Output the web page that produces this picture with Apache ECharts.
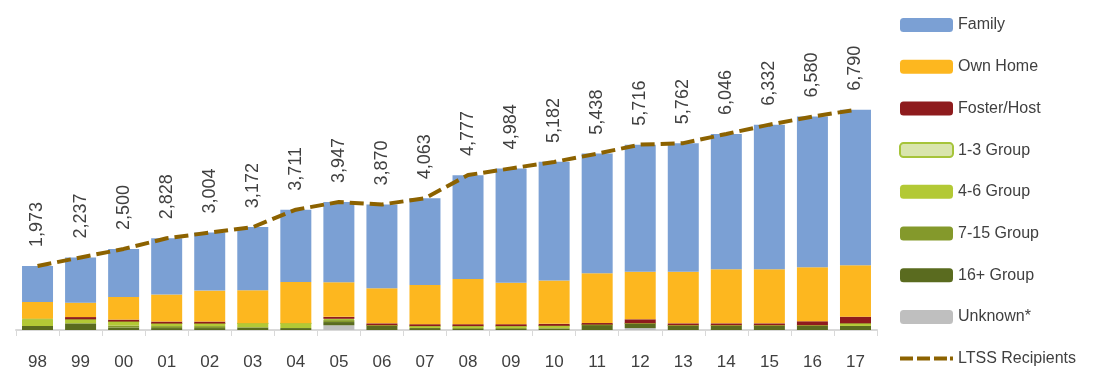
<!DOCTYPE html>
<html>
<head>
<meta charset="utf-8">
<script src="https://cdn.jsdelivr.net/npm/echarts@6/dist/echarts.min.js"></script>
<style>html,body{margin:0;padding:0;background:#fff}#c{width:1112px;height:382px}</style>
</head>
<body>
<div id="c"></div>
<script>
const years = ['98','99','00','01','02','03','04','05','06','07','08','09','10','11','12','13','14','15','16','17'];
const ltss = [1973,2237,2500,2828,3004,3172,3711,3947,3870,4063,4777,4984,5182,5438,5716,5762,6046,6332,6580,6790];
const family = [1110,1393,1480,1733,1790,1950,2230,2470,2585,2675,3205,3525,3660,3690,3915,3960,4175,4460,4645,4790];
const ownHome = [515,445,700,835,955,1020,1275,1070,1080,1205,1390,1275,1335,1535,1470,1595,1665,1665,1665,1590];
const fosterHost = [0,70,60,60,60,0,0,60,60,60,60,60,60,50,125,60,60,60,125,205];
const group1to3 = [20,0,0,0,0,0,0,40,0,0,0,0,0,0,0,0,0,0,0,0];
const group4to6 = [205,124,125,80,80,125,145,0,0,60,60,60,70,0,0,0,0,0,0,80];
const group7to15 = [0,0,60,60,60,0,0,60,0,0,30,30,20,0,0,0,0,0,0,0];
const group16plus = [124,205,75,60,60,80,60,100,145,60,30,30,40,165,145,145,145,145,145,125];
const unknown = [0,0,0,0,0,0,0,145,0,0,0,0,0,0,60,0,0,0,0,0];

const FONT = '"Liberation Sans", Arial, sans-serif';
const chart = echarts.init(document.getElementById('c'), null, {renderer: 'canvas'});

function bar(name, data, color, extra) {
  return Object.assign({
    name: name, type: 'bar', stack: 'total', data: data, barWidth: 31,
    itemStyle: {color: color}, emphasis: {disabled: true}
  }, extra || {});
}

const dashIcon = 'path://M0,0h0.01v0.01h-0.01z M53,14h0.01v0.01h-0.01z M0,5h13v4h-13z M17,5h13v4h-13z M34,5h13v4h-13z M50,5h3v4h-3z';

chart.setOption({
  animation: false,
  grid: {left: 16, right: 235, top: 103, bottom: 52, containLabel: false},
  legend: {
    orient: 'vertical', left: 894, top: 12,
    itemWidth: 53, itemHeight: 14, itemGap: 25.7,
    textStyle: {fontSize: 16, color: '#404040', fontFamily: FONT},
    data: ['Family','Own Home','Foster/Host','1-3 Group','4-6 Group','7-15 Group','16+ Group','Unknown*',
      {name: 'LTSS Recipients', icon: dashIcon, itemStyle: {color: '#8c6200'}}]
  },
  xAxis: {
    type: 'category', data: years,
    axisLine: {lineStyle: {color: '#d9d9d9', width: 2}},
    axisTick: {show: true, length: 6, lineStyle: {color: '#d9d9d9', width: 1}},
    axisLabel: {fontSize: 17, color: '#404040', margin: 24, fontFamily: FONT}
  },
  yAxis: {type: 'value', min: 0, max: 7000, show: false, splitLine: {show: false}},
  series: [
    bar('Unknown*', unknown, '#bfbfbf'),
    bar('16+ Group', group16plus, '#5a6b1f'),
    bar('7-15 Group', group7to15, '#84992b'),
    bar('4-6 Group', group4to6, '#b3c935'),
    bar('1-3 Group', group1to3, '#d9e5ad', {itemStyle: {color: '#d9e5ad', borderColor: '#a6c43a', borderWidth: 1}}),
    bar('Foster/Host', fosterHost, '#8e1b1d'),
    bar('Own Home', ownHome, '#fdb71f'),
    bar('Family', family, '#7ba0d4'),
    {
      name: 'LTSS Recipients', type: 'line', data: ltss, symbol: 'circle', symbolSize: 0, showSymbol: true, z: 5,
      lineStyle: {color: '#8c6200', width: 4, type: [14, 6]},
      itemStyle: {color: '#8c6200'},
      emphasis: {disabled: true},
      labelLayout: {hideOverlap: false},
      label: {
        show: true, position: 'top', rotate: 90, distance: 19,
        align: 'left', verticalAlign: 'middle',
        formatter: p => p.value.toLocaleString('en-US'),
        fontSize: 18, color: '#404040', fontFamily: FONT
      }
    }
  ]
});
</script>
</body>
</html>
